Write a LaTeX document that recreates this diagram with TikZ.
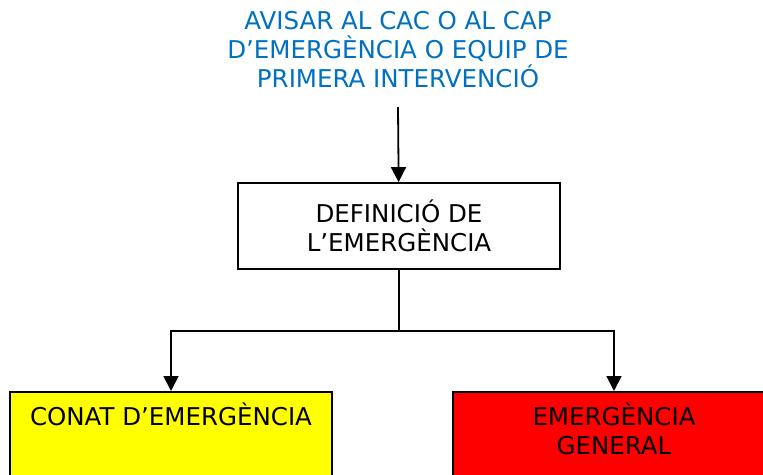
\documentclass[tikz,border=0pt]{standalone}
\usepackage{fontspec}
\setmainfont{DejaVu Sans}
\usepackage{xcolor}
\usetikzlibrary{arrows.meta, positioning}
\definecolor{avisblue}{HTML}{0070C0}
\definecolor{conatyellow}{HTML}{FFFF00}
\definecolor{generalred}{HTML}{FF0000}
\tikzset{
  box/.style={rectangle, draw, line width=1.8pt, minimum width=322pt, align=center, inner sep=0pt},
  arrow/.style={-{Triangle[width=15pt,length=15pt]}, line width=1.8pt},
}

\begin{document}
\begin{tikzpicture}[x=1pt, y=-1pt, font=\fontsize{24.5}{29}\selectfont]
  \useasboundingbox (0,0) rectangle (763,474);
  \clip (0,0) rectangle (763,474);
  \node[text=avisblue, align=center] (avisar) at (398,50) {AVISAR AL CAC O AL CAP\\D’EMERGÈNCIA O EQUIP DE\\PRIMERA INTERVENCIÓ};
  \coordinate (inici) at (398,107);
  \node[box, minimum height=86pt] (definicio) at (399,226) {DEFINICIÓ DE\\L’EMERGÈNCIA};
  \node[box, fill=conatyellow, anchor=north, text height=34pt, text depth=70pt] (conat) at (171,391) {CONAT D’EMERGÈNCIA};
  \node[box, fill=generalred, anchor=north, text height=63pt, text depth=41pt] (general) at (614,391) {EMERGÈNCIA\\GENERAL};
  \draw[arrow] (inici) -- (definicio);
  \draw[arrow] (definicio.south) -- ++(0,61) -| (conat.north);
  \draw[arrow] (definicio.south) -- ++(0,61) -| (general.north);
\end{tikzpicture}
\end{document}
